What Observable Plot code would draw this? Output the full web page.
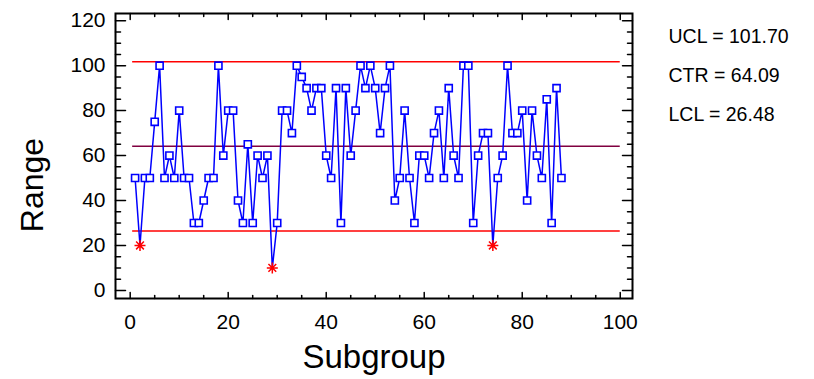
<!DOCTYPE html>
<html><head><meta charset="utf-8">
<script src="https://cdn.jsdelivr.net/npm/d3@7"></script>
<script src="https://cdn.jsdelivr.net/npm/@observablehq/plot@0.6"></script>
<style>body{margin:0;background:#fff;} svg{display:block;}</style>
</head><body><div id="chart"></div>
<script>
const ranges = [
  50,20,50,50,75,100,50,60,50,80,
  50,50,30,30,40,50,50,100,60,80,
  80,40,30,65,30,60,50,60,10,30,
  80,80,70,100,95,90,80,90,90,60,
  50,90,30,90,60,80,100,90,100,90,
  70,90,100,40,50,80,50,30,60,60,
  50,70,80,50,90,60,50,100,100,30,
  60,70,70,20,50,60,100,70,70,80,
  40,80,60,50,85,30,90,50
];
const UCL = 101.70, CTR = 64.09, LCL = 26.48;
const limitStart = 0.5, limitEnd = 100;
const xMajor = [0, 20, 40, 60, 80, 100];
const xMinor = [5,10,15,25,30,35,45,50,55,65,70,75,85,90,95];
const yMajor = [0, 20, 40, 60, 80, 100, 120];
const yMinor = [5,10,15,25,30,35,45,50,55,65,70,75,85,90,95,105,110,115];
const limitLabels = ["UCL = " + UCL.toFixed(2), "CTR = " + CTR.toFixed(2), "LCL = " + LCL.toFixed(2)];

const data = ranges.map((r, i) => ({s: i + 1, r}));
const inside = data.filter(d => d.r >= LCL && d.r <= UCL);
const outside = data.filter(d => d.r < LCL || d.r > UCL);
const limits = [
  {v: UCL, c: "#ff0000"},
  {v: CTR, c: "#800040"},
  {v: LCL, c: "#ff0000"}
];
const tickShape = {draw(ctx, l) { ctx.moveTo(0, 0); ctx.lineTo(0, -l); }};
const star8 = {draw(ctx, size) {
  const r = Math.sqrt(size / Math.PI);
  for (let k = 0; k < 4; k++) {
    const a = k * Math.PI / 4, c = Math.cos(a) * r, s = Math.sin(a) * r;
    ctx.moveTo(c, s); ctx.lineTo(-c, -s);
  }
}};
const font = "Liberation Sans, Arial, sans-serif";
const tk = (arr, opts) => Plot.vector(arr, {anchor: "start", shape: tickShape, stroke: "black", strokeWidth: 1.5, ...opts});

const chart = Plot.plot({
  width: 814, height: 379,
  marginLeft: 115, marginRight: 182, marginTop: 13, marginBottom: 81,
  style: {fontFamily: font, background: "white"},
  x: {domain: [-3, 102.5]},
  y: {domain: [-3.6, 123.2]},
  marks: [
    Plot.ruleY(limits, {y: "v", x1: limitStart, x2: limitEnd, stroke: "c", strokeWidth: 1.5}),
    Plot.line(data, {x: "s", y: "r", stroke: "#0000ff", strokeWidth: 1.5}),
    Plot.dot(inside, {x: "s", y: "r", symbol: "square", r: 4, stroke: "#0000ff", fill: "white", strokeWidth: 1.6}),
    Plot.dot(outside, {x: "s", y: "r", symbol: star8, r: 5.5, stroke: "#ff0000", strokeWidth: 1.5}),
    Plot.frame({stroke: "black", strokeWidth: 2}),
    tk(yMajor, {y: d => d, frameAnchor: "left", rotate: 90, length: 10}),
    tk(yMinor, {y: d => d, frameAnchor: "left", rotate: 90, length: 5}),
    tk(yMajor, {y: d => d, frameAnchor: "right", rotate: -90, length: 10}),
    tk(yMinor, {y: d => d, frameAnchor: "right", rotate: -90, length: 5}),
    tk(xMajor, {x: d => d, frameAnchor: "bottom", rotate: 0, length: 6}),
    tk(xMinor, {x: d => d, frameAnchor: "bottom", rotate: 0, length: 3}),
    tk(xMajor, {x: d => d, frameAnchor: "top", rotate: 180, length: 6}),
    tk(xMinor, {x: d => d, frameAnchor: "top", rotate: 180, length: 3}),
    Plot.axisY(yMajor, {anchor: "left", tickSize: 0, tickPadding: 10, fontSize: 21, label: null, fill: "black"}),
    Plot.axisX(xMajor, {anchor: "bottom", tickSize: 0, tickPadding: 16, fontSize: 21, label: null, fill: "black"}),
    Plot.text(["Range"], {frameAnchor: "left", textAnchor: "middle", rotate: -90, dx: -83, dy: 29, fontSize: 32, text: d => d, fill: "black"}),
    Plot.text(["Subgroup"], {frameAnchor: "bottom", lineAnchor: "bottom", dy: 69, fontSize: 33, text: d => d, fill: "black"}),
    Plot.text([limitLabels.join("\n")], {frameAnchor: "top-right", textAnchor: "start", lineAnchor: "top", lineHeight: 2.0, dx: 36, dy: 2, fontSize: 19.5, text: d => d, fill: "black"})
  ]
});
document.getElementById("chart").appendChild(chart);
</script>
</body></html>
